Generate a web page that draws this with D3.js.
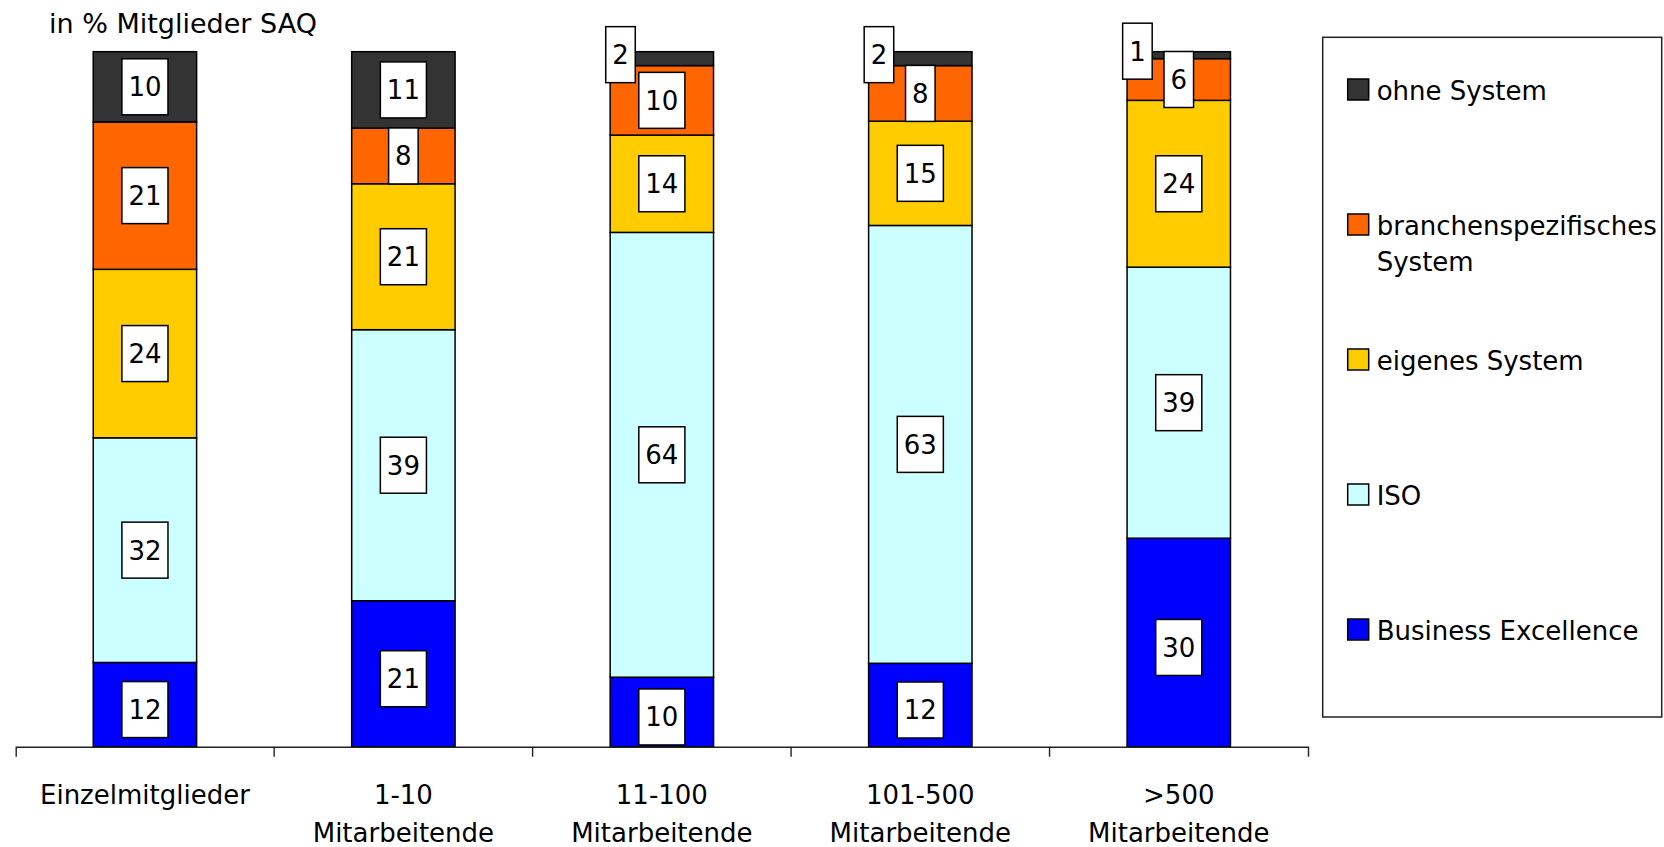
<!DOCTYPE html>
<html>
<head>
<meta charset="utf-8">
<script src="https://cdn.jsdelivr.net/npm/d3@7"></script>
<style>
  html, body { margin: 0; padding: 0; background: #fff; }
  svg { display: block; }
  svg text { font-family: "DejaVu Sans", Verdana, sans-serif; }
</style>
</head>
<body>
<svg id="chart" width="1664" height="847"></svg>
<script>
// ---- data ----
const categories = ["Einzelmitglieder", "1-10 Mitarbeitende", "11-100 Mitarbeitende", "101-500 Mitarbeitende", ">500 Mitarbeitende"];
const tickLabels = [["Einzelmitglieder"], ["1-10", "Mitarbeitende"], ["11-100", "Mitarbeitende"], ["101-500", "Mitarbeitende"], [">500", "Mitarbeitende"]];
const seriesNames = ["Business Excellence", "ISO", "eigenes System", "branchenspezifisches System", "ohne System"];
const businessExcellence = [12, 21, 10, 12, 30];
const iso = [32, 39, 64, 63, 39];
const eigenesSystem = [24, 21, 14, 15, 24];
const branchenspezifisch = [21, 8, 10, 8, 6];
const ohneSystem = [10, 11, 2, 2, 1];
const seriesColors = ["#0000FF", "#CCFFFF", "#FFCC00", "#FF6600", "#333333"];
const legendLines = [["Business Excellence"], ["ISO"], ["eigenes System"], ["branchenspezifisches", "System"], ["ohne System"]];
const titleText = "in % Mitglieder SAQ";

// ---- build table ----
const seriesValues = [businessExcellence, iso, eigenesSystem, branchenspezifisch, ohneSystem];
const table = categories.map((c, i) => {
  const row = { category: c };
  seriesNames.forEach((s, j) => row[s] = seriesValues[j][i]);
  return row;
});
const stacked = d3.stack().keys(seriesNames).offset(d3.stackOffsetExpand)(table);

// ---- layout ----
const svg = d3.select("#chart");
const plotLeft = 15.7, plotRight = 1308, plotTop = 51.7, plotBottom = 746.7;
const fontSize = 26;
const FONT = '"DejaVu Sans", Verdana, sans-serif';

const x = d3.scaleBand().domain(categories).range([plotLeft, plotRight]).padding(0);
const y = d3.scaleLinear().domain([0, 1]).range([plotBottom, plotTop]);
const color = d3.scaleOrdinal().domain(seriesNames).range(seriesColors);
const barW = x.bandwidth() * 0.4;
const barX = c => x(c) + (x.bandwidth() - barW) / 2;

// title
svg.append("text").attr("x", 49).attr("y", 33.3)
  .attr("font-size", 27).attr("fill", "#000").text(titleText);

// bars
const layers = svg.append("g").selectAll("g").data(stacked).join("g")
  .attr("fill", d => color(d.key));
layers.selectAll("rect").data(d => d.map(p => ({ p, key: d.key }))).join("rect")
  .attr("x", d => barX(d.p.data.category))
  .attr("width", barW)
  .attr("y", d => y(d.p[1]))
  .attr("height", d => y(d.p[0]) - y(d.p[1]))
  .attr("stroke", "#000").attr("stroke-width", 1.5);

// axis
const axis = d3.axisBottom(x).tickSizeInner(0).tickSizeOuter(10).tickFormat("");
const axisG = svg.append("g").attr("transform", `translate(0,${plotBottom})`).call(axis)
  .attr("font-family", FONT).attr("font-size", fontSize);
axisG.select(".domain").attr("stroke", "#222").attr("stroke-width", 1.4);
axisG.selectAll(".tick line").remove();
axisG.selectAll(".tick text").remove();
axisG.selectAll(".boundary").data(categories.slice(1)).join("line")
  .attr("class", "boundary")
  .attr("x1", c => x(c)).attr("x2", c => x(c))
  .attr("y1", 0).attr("y2", 10)
  .attr("stroke", "#222").attr("stroke-width", 1.4);
axisG.selectAll(".catlabel").data(categories).join("text")
  .attr("class", "catlabel")
  .attr("text-anchor", "middle")
  .attr("font-family", FONT)
  .attr("font-size", fontSize)
  .attr("fill", "#000")
  .attr("transform", c => `translate(${x(c) + x.bandwidth() / 2},0)`)
  .each(function (c, i) {
    const t = d3.select(this);
    tickLabels[i].forEach((line, k) => {
      t.append("tspan").attr("x", 0).attr("y", 57 + k * 38).text(line);
    });
  });

// data labels
const labelData = [];
stacked.forEach((layer, li) => layer.forEach(p => {
  const v = p.data[layer.key];
  labelData.push({ v, li, cat: p.data.category, y0: p[0], y1: p[1] });
}));
const lblG = svg.append("g");
labelData.forEach(d => {
  const small = d.v < 3;
  const cx = x(d.cat) + x.bandwidth() / 2 + (small ? -barW * 0.4 : 0);
  const cy = (y(d.y0) + y(d.y1)) / 2 + (small ? -4 : (d.li === 0 ? 5 : 0));
  const g = lblG.append("g").attr("transform", `translate(${cx},${cy})`);
  const rect = g.append("rect");
  const txt = g.append("text").attr("text-anchor", "middle").attr("dy", "0.36em")
    .attr("font-size", fontSize).attr("fill", "#000").text(d.v);
  const w = txt.node().getComputedTextLength() + 13;
  const h = 56;
  rect.attr("x", -w / 2).attr("y", -h / 2).attr("width", w).attr("height", h)
    .attr("fill", "#fff").attr("stroke", "#000").attr("stroke-width", 1.5);
});

// legend
const legX = 1322.7, legY = 37.3, legW = 339, legH = 679.7;
svg.append("rect").attr("x", legX).attr("y", legY).attr("width", legW).attr("height", legH)
  .attr("fill", "#fff").attr("stroke", "#222").attr("stroke-width", 1.5);
const legendOrder = seriesNames.slice().reverse();
const legendY = d3.scalePoint().domain(legendOrder).range([100, 640]);
const legItems = svg.append("g").selectAll("g").data(legendOrder).join("g")
  .attr("transform", d => `translate(${legX + 25},${legendY(d)})`);
legItems.append("rect").attr("x", 0).attr("y", -21).attr("width", 21).attr("height", 21)
  .attr("fill", d => color(d)).attr("stroke", "#000").attr("stroke-width", 1.5);
legItems.append("text").attr("font-size", fontSize).attr("fill", "#000")
  .each(function (d) {
    const t = d3.select(this);
    legendLines[seriesNames.indexOf(d)].forEach((line, k) => {
      t.append("tspan").attr("x", 29).attr("y", k * 36).text(line);
    });
  });
</script>
</body>
</html>
